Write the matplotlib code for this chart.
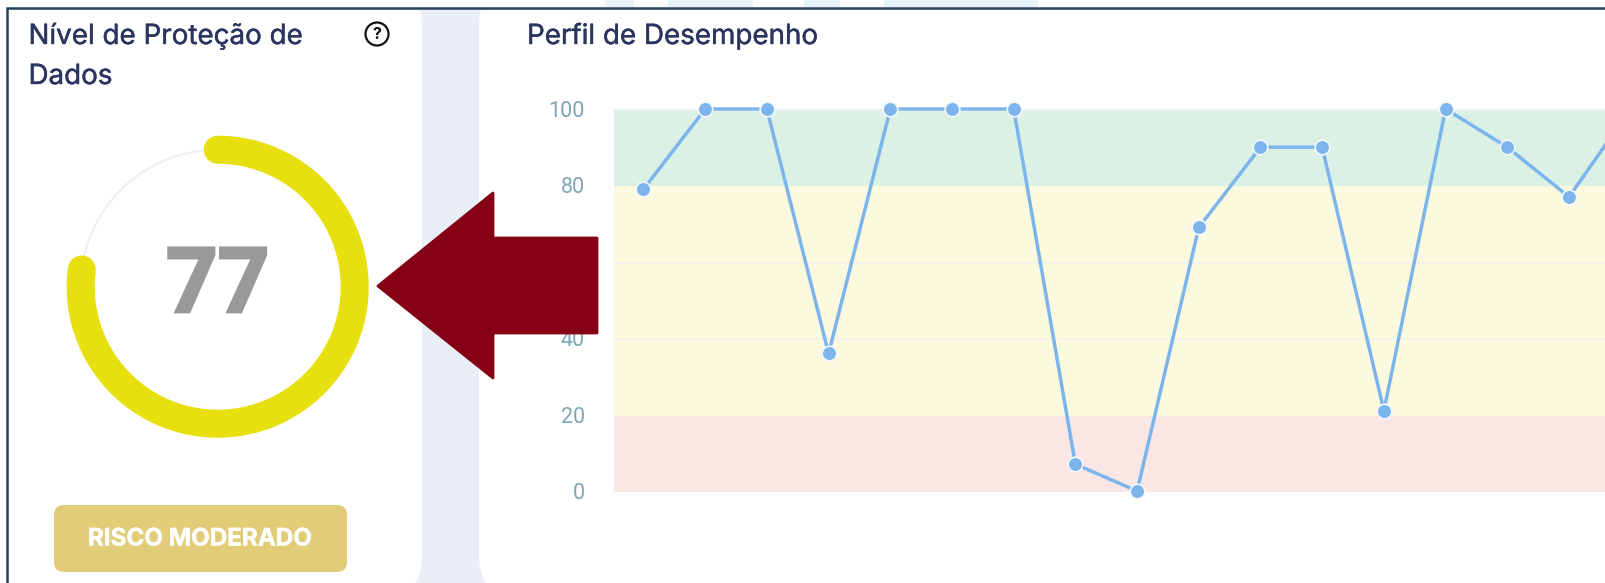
import numpy as np
import matplotlib
matplotlib.use("Agg")
import matplotlib.pyplot as plt
import matplotlib.patheffects as pe
from matplotlib.patches import FancyBboxPatch, Polygon, Circle, Rectangle

W, H = 1606, 583
scores = [79, 100, 100, 36, 100, 100, 100, 7, 0, 69, 90, 90, 21, 100, 90, 77, 100]
y_ticks = [0, 20, 40, 60, 80, 100]
band_edges = [0, 20, 80, 100]
band_colors = ["#F9E6E5", "#FBF9DE", "#DBF1E5"]
gauge_value = 77
gauge_title = ["Nível de Proteção de", "Dados"]
chart_title = "Perfil de Desempenho"
badge_text = "RISCO MODERADO"

TXT = "#2B3560"
fig = plt.figure(figsize=(W / 100, H / 100), dpi=100, facecolor="white")

bg = fig.add_axes([0, 0, 1, 1], zorder=0)
bg.set_xlim(0, W); bg.set_ylim(H, 0); bg.axis("off")
bg.add_patch(Rectangle((6, 8), W, H, fc="#EAEFF7", ec="none"))
R = 45
for x0, x1 in [(-100, 422), (479, W + 100)]:
    bg.add_patch(FancyBboxPatch((x0 + R, -20 + R), x1 - x0 - 2 * R, 620 - 2 * R,
                                boxstyle=f"round,pad={R},rounding_size={R}",
                                fc="white", ec="none"))
bg.add_patch(Rectangle((0, 0), W, 7, fc="white", ec="none"))
bg.add_patch(Rectangle((0, 0), 6, H, fc="white", ec="none"))
for x0, x1 in [(605, 634), (668, 753), (804, 840), (884, 1038)]:
    bg.add_patch(Rectangle((x0, 0), x1 - x0, 7, fc="#E6F4FA", ec="none"))
bg.plot([7, 7, W], [H, 8, 8], color="#264060", lw=1.8, solid_joinstyle="miter")

# gauge
cx, cy, r = 217.7, 286.7, 137
t = np.radians(np.linspace(0, 360, 361))
bg.plot(cx + r * np.sin(t), cy - r * np.cos(t), color="#F0F0F0", lw=1.6)
t = np.radians(np.linspace(0, 360 * gauge_value / 100, 300))
bg.plot(cx + r * np.sin(t), cy - r * np.cos(t), color="#E8DF0E", lw=20.2,
        solid_capstyle="round")
bg.text(cx, 312, str(gauge_value), ha="center", va="baseline", family="Roboto",
        fontweight="bold", fontsize=65, color="#999999",
        path_effects=[pe.withStroke(linewidth=2, foreground="#999999", joinstyle="miter")])

# titles
medium = [pe.withStroke(linewidth=0.3, foreground=TXT)]
tkw = dict(family="Inter", fontsize=20, color=TXT, va="baseline", ha="left",
           path_effects=medium)
bg.text(28.5, 44, gauge_title[0], **tkw)
bg.text(28.5, 84, gauge_title[1], **tkw)
bg.text(527, 44, chart_title, **tkw)

# help icon
bg.add_patch(Circle((377, 34), 11.5, fc="none", ec="#111111", lw=1.6))
bg.text(377, 34.5, "?", ha="center", va="center", family="Inter", fontweight="bold",
        fontsize=11.5, color="#111111")

# badge
bg.add_patch(FancyBboxPatch((64, 515), 273, 47, boxstyle="round,pad=10,rounding_size=10",
                            fc="#E1CD78", ec="none"))
bg.text(200, 539.5, badge_text, ha="center", va="center", family="Inter",
        fontweight="bold", fontsize=17.4, color="white",
        path_effects=[pe.withStroke(linewidth=0.3, foreground="white")])

# bands: left=614, y0=492.3, y100=110
xlim = ((614 - 643.5) / 61.7, (W - 643.5) / 61.7)
ab = fig.add_axes([614 / W, 1 - 492.3 / H, (W - 614) / W, (492.3 - 110) / H], zorder=1)
ab.set_ylim(0, 100); ab.set_xlim(*xlim); ab.axis("off")
for lo, hi, c in zip(band_edges[:-1], band_edges[1:], band_colors):
    ab.axhspan(lo, hi, color=c, lw=0, zorder=1)
ab.axhline(100, color="#EFF1EF", lw=1.6, zorder=1.5, clip_on=False)
for v in (40, 60):
    ab.axhline(v, color="#F3F2EC", lw=1.2, zorder=1.5)

# line: y0=491, y100=109
ax = fig.add_axes([614 / W, 1 - 491 / H, (W - 614) / W, (491 - 109) / H], zorder=2)
ax.patch.set_alpha(0)
ax.set_ylim(0, 100); ax.set_xlim(*xlim)
line, = ax.plot(range(len(scores)), scores, color="#7CB5EC", lw=2.5, marker="o", ms=10.5,
                mfc="#7CB5EC", mec="#F4F8FB", mew=1.2, zorder=3)
line.set_clip_box(fig.bbox)
ax.set_yticks(y_ticks)
ax.set_xticks([])
ax.tick_params(axis="y", length=0, pad=21, labelsize=15.5, labelcolor="#7FA6B2")
for lab in ax.get_yticklabels():
    lab.set_family("Roboto")
for s in ax.spines.values():
    s.set_visible(False)

# overlay arrow
ov = fig.add_axes([0, 0, 1, 1], zorder=5)
ov.set_xlim(0, W); ov.set_ylim(H, 0); ov.axis("off")
ov.add_patch(Polygon([(378, 286), (493, 193), (493, 238), (597, 238), (597, 333),
                      (493, 333), (493, 378)], closed=True, fc="#850015", ec="#850015",
                     lw=2, joinstyle="round"))

fig.savefig("out.png", dpi=100, facecolor="white")
